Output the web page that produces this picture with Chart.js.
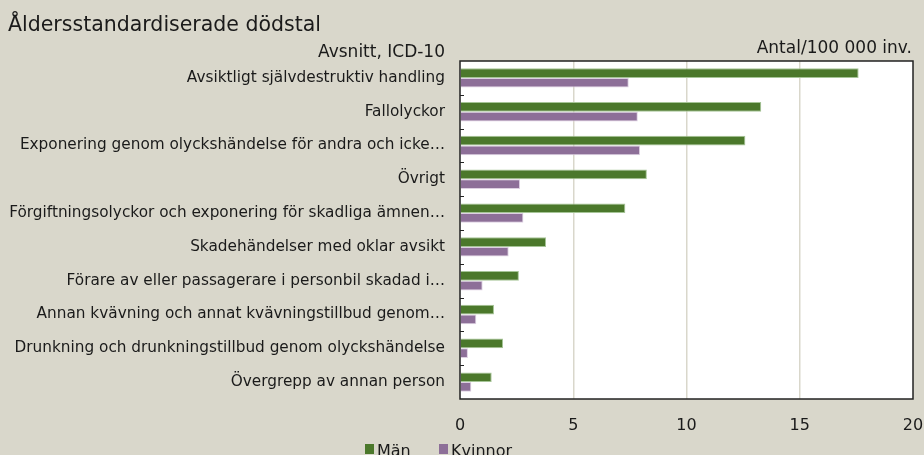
<!DOCTYPE html>
<html lang="sv">
<head>
<meta charset="utf-8">
<title>Åldersstandardiserade dödstal</title>
<script src="https://cdn.jsdelivr.net/npm/chart.js@4/dist/chart.umd.min.js"></script>
<style>
  html, body {
    margin: 0;
    padding: 0;
    background: #d9d7cb;
    overflow: hidden;
  }
  .wrap {
    width: 924px;
    height: 455px;
    position: relative;
  }
</style>
</head>
<body>
<div class="wrap">
  <canvas id="chart" width="924" height="455"></canvas>
</div>
<script>
// kategorier (avsnitt, ICD-10), uppifrån och ned
const categories = [
  "Avsiktligt självdestruktiv handling",
  "Fallolyckor",
  "Exponering genom olyckshändelse för andra och icke…",
  "Övrigt",
  "Förgiftningsolyckor och exponering för skadliga ämnen…",
  "Skadehändelser med oklar avsikt",
  "Förare av eller passagerare i personbil skadad i…",
  "Annan kvävning och annat kvävningstillbud genom…",
  "Drunkning och drunkningstillbud genom olyckshändelse",
  "Övergrepp av annan person",
];

// antal per 100 000 inv.
const man = [17.6, 13.3, 12.6, 8.25, 7.3, 3.8, 2.6, 1.5, 1.9, 1.4];
const kvinnor = [7.45, 7.85, 7.95, 2.65, 2.8, 2.15, 1.0, 0.72, 0.35, 0.5];

const xTicks = [0, 5, 10, 15, 20];

const titleText = "Åldersstandardiserade dödstal";
const yAxisTitle = "Avsnitt, ICD-10";
const xAxisTitle = "Antal/100 000 inv.";

const FONT = "'DejaVu Sans', sans-serif";
const INK = "#1a1a1a";

// vit plotyta, ram, inre tickmarkeringar, rubriker och legend
const decorations = {
  id: "decorations",
  beforeDraw(chart) {
    const { ctx, chartArea } = chart;
    ctx.save();
    ctx.fillStyle = "#ffffff";
    ctx.fillRect(chartArea.left, chartArea.top, chartArea.right - chartArea.left, chartArea.bottom - chartArea.top);
    ctx.restore();
  },
  afterDraw(chart) {
    const { ctx, chartArea } = chart;
    const y = chart.scales.y;
    ctx.save();

    // ram runt plotytan
    ctx.strokeStyle = "#222222";
    ctx.lineWidth = 1.5;
    ctx.strokeRect(chartArea.left, chartArea.top, chartArea.right - chartArea.left, chartArea.bottom - chartArea.top);

    // tickmarkeringar mellan kategorierna, inåt
    ctx.lineWidth = 1;
    const step = (y.bottom - y.top) / categories.length;
    for (let k = 1; k < categories.length; k++) {
      const py = Math.round(y.top + k * step) + 0.5;
      ctx.beginPath();
      ctx.moveTo(chartArea.left, py);
      ctx.lineTo(chartArea.left + 4, py);
      ctx.stroke();
    }

    // texter
    ctx.fillStyle = INK;
    ctx.textBaseline = "alphabetic";
    ctx.font = "20.5px " + FONT;
    ctx.textAlign = "left";
    ctx.fillText(titleText, 8, 31);

    ctx.font = "17px " + FONT;
    ctx.textAlign = "right";
    ctx.fillText(yAxisTitle, 445, 57);
    ctx.fillText(xAxisTitle, 912, 53);

    // legend (nedtill, delvis avklippt som i originalet)
    ctx.font = "16px " + FONT;
    ctx.textAlign = "left";
    const legendX = [365, 439];
    chart.data.datasets.forEach((ds, i) => {
      ctx.fillStyle = ds.backgroundColor;
      ctx.fillRect(legendX[i], 444, 9, 10);
      ctx.fillStyle = INK;
      ctx.fillText(ds.label, legendX[i] + 12, 456);
    });

    ctx.restore();
  },
};

new Chart(document.getElementById("chart"), {
  type: "bar",
  data: {
    labels: categories,
    datasets: [
      {
        label: "Män",
        data: man,
        backgroundColor: "#4b782b",
        borderColor: "#a6c597",
        borderWidth: 1,
        categoryPercentage: 0.575,
        barPercentage: 1.0,
      },
      {
        label: "Kvinnor",
        data: kvinnor,
        backgroundColor: "#8d6f98",
        borderColor: "#ddd0e2",
        borderWidth: 1,
        categoryPercentage: 0.575,
        barPercentage: 1.0,
      },
    ],
  },
  options: {
    indexAxis: "y",
    responsive: false,
    animation: false,
    layout: {
      padding: { top: 61, left: 5, right: 11, bottom: 0 },
    },
    scales: {
      x: {
        min: 0,
        max: 20,
        afterFit(scale) {
          scale.height = 56;
          // sista etiketten får gå utanför plotytan
          scale.paddingLeft = 0;
          scale.paddingRight = 0;
        },
        afterBuildTicks(scale) {
          scale.ticks = xTicks.map((v) => ({ value: v }));
        },
        grid: {
          color: (c) => (c.tick && (c.tick.value === 0 || c.tick.value === 20) ? "rgba(0,0,0,0)" : "#d9d7cb"),
          lineWidth: 1.5,
          drawTicks: false,
        },
        border: { display: false },
        ticks: {
          color: INK,
          padding: 17,
          maxRotation: 0,
          font: { family: FONT, size: 16 },
        },
      },
      y: {
        afterFit(scale) {
          scale.width = 455;
        },
        grid: { display: false, drawTicks: false },
        border: { display: false },
        ticks: {
          color: INK,
          padding: 15,
          autoSkip: false,
          font: { family: FONT, size: 15.3 },
        },
      },
    },
    plugins: {
      legend: { display: false },
      tooltip: { enabled: false },
    },
  },
  plugins: [decorations],
});
</script>
</body>
</html>
